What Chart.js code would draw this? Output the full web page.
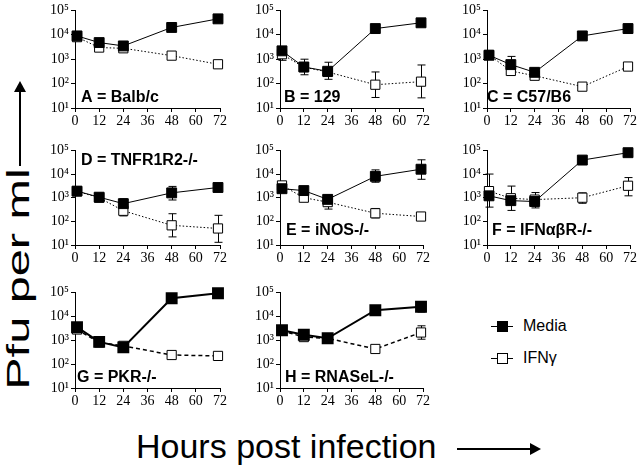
<!DOCTYPE html>
<html>
<head>
<meta charset="utf-8">
<script src="https://cdn.jsdelivr.net/npm/chart.js@4.4.0/dist/chart.umd.min.js"></script>
<style>
  body { margin: 0; background: #fff; width: 640px; height: 469px; overflow: hidden; position: relative; font-family: "Liberation Sans", Arial, sans-serif; }
  canvas { position: absolute; }
  .ytitle { position: absolute; left: 18px; top: 279px; transform: translate(-50%, -50%) rotate(-90deg) scaleX(1.52); white-space: nowrap; font-size: 32px; line-height: 1; }
  .xtitle { position: absolute; left: 136px; top: 427px; white-space: nowrap; font-size: 34px; }
  .vline { position: absolute; left: 19px; top: 92px; width: 2px; height: 74px; background: #000; }
  .vline:after { content: ""; position: absolute; left: -5px; top: -11px; border-bottom: 11px solid #000; border-left: 6px solid transparent; border-right: 6px solid transparent; }
  .hline { position: absolute; left: 457px; top: 448px; width: 73px; height: 2px; background: #000; }
  .hline:after { content: ""; position: absolute; right: -11px; top: -5px; border-left: 11px solid #000; border-top: 6px solid transparent; border-bottom: 6px solid transparent; }
  .leg { position: absolute; left: 491px; font-size: 16px; display: flex; align-items: center; }
  .leg .ln { width: 22px; height: 1px; background: #000; position: relative; margin-right: 10px; }
  .leg .sq { position: absolute; left: 6px; top: -5px; width: 9px; height: 9px; border: 1px solid #000; }
</style>
</head>
<body>

<div class="ytitle">Pfu per ml</div>
<div class="vline"></div>
<div class="xtitle">Hours post infection</div>
<div class="hline"></div>

<div class="leg" style="top:317px"><span class="ln"><span class="sq" style="background:#000"></span></span>Media</div>
<div class="leg" style="top:349px"><span class="ln"><span class="sq" style="background:#fff"></span></span>IFNγ</div>

<script>
// sampling times (h)
const hours = [1, 12, 24, 48, 71];
const xTicks = [0, 12, 24, 36, 48, 60, 72];
const yTicks = [10, 100, 1000, 10000, 100000];
const yTickLabels = ['10¹', '10²', '10³', '10⁴', '10⁵'];

const panelLabels = ['A = Balb/c', 'B = 129', 'C = C57/B6', 'D = TNFR1R2-/-', 'E = iNOS-/-', 'F = IFNαβR-/-', 'G = PKR-/-', 'H = RNASeL-/-'];

// Pfu per ml, filled squares (Media) and open squares (IFNγ)
const mediaA = [9000, 4800, 3500, 20000, 45000];
const ifnA   = [8000, 3000, 2800, 1400, 620];
const mediaB = [2200, 480, 320, 18000, 31000];
const ifnB   = [1600, 470, 300, 90, 120];
const mediaC = [1450, 600, 290, 9000, 18000];
const ifnC   = [1500, 330, 210, 75, 500];
const mediaD = [1900, 1050, 560, 1600, 2700];
const ifnD   = [1850, 1000, 280, 68, 50];
const mediaE = [2400, 2000, 850, 8000, 16000];
const ifnE   = [3300, 1000, 650, 220, 160];
const mediaF = [1200, 750, 690, 39000, 80000];
const ifnF   = [1900, 950, 830, 1000, 3200];
const mediaG = [3500, 850, 500, 57000, 92000];
const ifnG   = [2800, 800, 580, 240, 220];
const mediaH = [2600, 1700, 1200, 18000, 25000];
const ifnH   = [2500, 1350, 1200, 430, 2100];

// error bars [low, high], null = none drawn
const mediaErrA = [[8000, 11000], null, null, null, [38000, 55000]];
const ifnErrA   = [null, null, null, null, null];
const mediaErrB = [[1200, 2800], [230, 1000], [150, 750], null, null];
const ifnErrB   = [[900, 2200], null, null, [27, 300], [26, 580]];
const mediaErrC = [null, [350, 1300], [200, 420], null, [12000, 27000]];
const ifnErrC   = [null, [230, 450], null, null, null];
const mediaErrD = [null, null, [330, 900], [800, 3000], null];
const ifnErrD   = [null, null, [170, 450], [22, 210], [13, 180]];
const mediaErrE = [null, null, [450, 1300], [4500, 15000], [6000, 40000]];
const ifnErrE   = [null, null, [330, 1000], [140, 350], null];
const mediaErrF = [[400, 10000], [290, 3100], [370, 1650], null, null];
const ifnErrF   = [null, null, null, [580, 1600], [1200, 7100]];
const mediaErrG = [null, null, null, null, null];
const ifnErrG   = [null, null, null, null, null];
const mediaErrH = [null, null, null, [13000, 25000], [15000, 40000]];
const ifnErrH   = [null, null, null, null, [1100, 4000]];

const panels = [
  [mediaA, ifnA, mediaErrA, ifnErrA],
  [mediaB, ifnB, mediaErrB, ifnErrB],
  [mediaC, ifnC, mediaErrC, ifnErrC],
  [mediaD, ifnD, mediaErrD, ifnErrD],
  [mediaE, ifnE, mediaErrE, ifnErrE],
  [mediaF, ifnF, mediaErrF, ifnErrF],
  [mediaG, ifnG, mediaErrG, ifnErrG],
  [mediaH, ifnH, mediaErrH, ifnErrH]
];

// layout of the plot areas
const colLeft = [75, 280, 487];
const colWidth = [145, 143, 143];
const rowTop = [8, 148, 290];
const rowHeight = [100, 97, 98];
const labelPos = [[6, 92], [4, 92], [0, 92], [6, 15], [6, 85], [5, 85], [2, 90], [5, 90]];
const YW = 38, XH = 18, PT = 8, PR = 12;

Chart.defaults.font.family = "'Liberation Serif', 'Times New Roman', Times, serif";
Chart.defaults.font.size = 14;
Chart.defaults.color = '#000';

const errorBars = {
  id: 'errorBars',
  beforeDatasetsDraw(chart) {
    const ctx = chart.ctx, x = chart.scales.x, y = chart.scales.y;
    ctx.save();
    ctx.strokeStyle = '#000';
    ctx.lineWidth = 1;
    chart.data.datasets.forEach(ds => {
      ds.errors.forEach((e, i) => {
        if (!e) return;
        const px = Math.round(x.getPixelForValue(ds.data[i].x)) + 0.5;
        const lo = y.getPixelForValue(e[0]), hi = y.getPixelForValue(e[1]);
        ctx.beginPath();
        ctx.moveTo(px, lo); ctx.lineTo(px, hi);
        ctx.moveTo(px - 4, lo); ctx.lineTo(px + 4, lo);
        ctx.moveTo(px - 4, hi); ctx.lineTo(px + 4, hi);
        ctx.stroke();
      });
    });
    ctx.restore();
  }
};

const panelLabel = {
  id: 'panelLabel',
  afterDraw(chart, args, opts) {
    const ctx = chart.ctx, a = chart.chartArea;
    ctx.save();
    ctx.fillStyle = '#000';
    ctx.font = "bold 16px 'Liberation Sans', Arial, sans-serif";
    ctx.textBaseline = 'alphabetic';
    ctx.fillText(opts.text, a.left + opts.dx, a.top + opts.dy);
    ctx.restore();
  }
};

function drawPanels() {
  panels.forEach((p, k) => {
    const col = k % 3, row = Math.floor(k / 3);
    const thick = row === 2;
    const cv = document.createElement('canvas');
    cv.width = YW + colWidth[col] + PR;
    cv.height = PT + rowHeight[row] + XH;
    cv.style.left = (colLeft[col] - YW) + 'px';
    cv.style.top = (rowTop[row] - PT) + 'px';
    document.body.appendChild(cv);

    new Chart(cv, {
      type: 'line',
      data: {
        datasets: [
          {
            label: 'Media',
            data: hours.map((t, i) => ({ x: t, y: p[0][i] })),
            errors: p[2],
            borderColor: '#000', borderWidth: thick ? 2 : 1,
            pointStyle: 'rect', pointRadius: 7,
            pointBackgroundColor: '#000', pointBorderColor: '#000',
            tension: 0, clip: false
          },
          {
            label: 'IFNγ',
            data: hours.map((t, i) => ({ x: t, y: p[1][i] })),
            errors: p[3],
            borderColor: '#000', borderWidth: thick ? 1.5 : 1,
            borderDash: thick ? [4, 3] : [1.5, 2],
            pointStyle: 'rect', pointRadius: 6.5, pointBorderWidth: 1,
            pointBackgroundColor: '#fff', pointBorderColor: '#000',
            tension: 0, clip: false
          }
        ]
      },
      options: {
        responsive: false, animation: false, devicePixelRatio: 1,
        layout: { padding: { top: PT, right: PR, left: 0, bottom: 0 } },
        plugins: {
          legend: { display: false }, tooltip: { enabled: false },
          panelLabel: { text: panelLabels[k], dx: labelPos[k][0], dy: labelPos[k][1] }
        },
        scales: {
          x: {
            type: 'linear', min: 0, max: 72,
            afterBuildTicks: s => { s.ticks = xTicks.map(v => ({ value: v })); },
            afterFit: s => { s.height = XH; },
            grid: { drawOnChartArea: false, drawTicks: true, tickLength: 4, color: '#000' },
            border: { color: '#000', width: 1 },
            ticks: { color: '#000', padding: 1, maxRotation: 0, autoSkip: false }
          },
          y: {
            type: 'logarithmic', min: 10, max: 100000,
            afterBuildTicks: s => { s.ticks = yTicks.map(v => ({ value: v })); },
            afterFit: s => { s.width = YW; },
            grid: { drawOnChartArea: false, drawTicks: true, tickLength: 4, color: '#000' },
            border: { color: '#000', width: 1 },
            ticks: { color: '#000', padding: 2, callback: (v, i) => yTickLabels[i] }
          }
        }
      },
      plugins: [errorBars, panelLabel]
    });
  });
}

Promise.all([
  document.fonts.load("14px 'Liberation Serif'"),
  document.fonts.load("bold 16px 'Liberation Sans'")
]).then(drawPanels, drawPanels);
</script>
</body>
</html>
